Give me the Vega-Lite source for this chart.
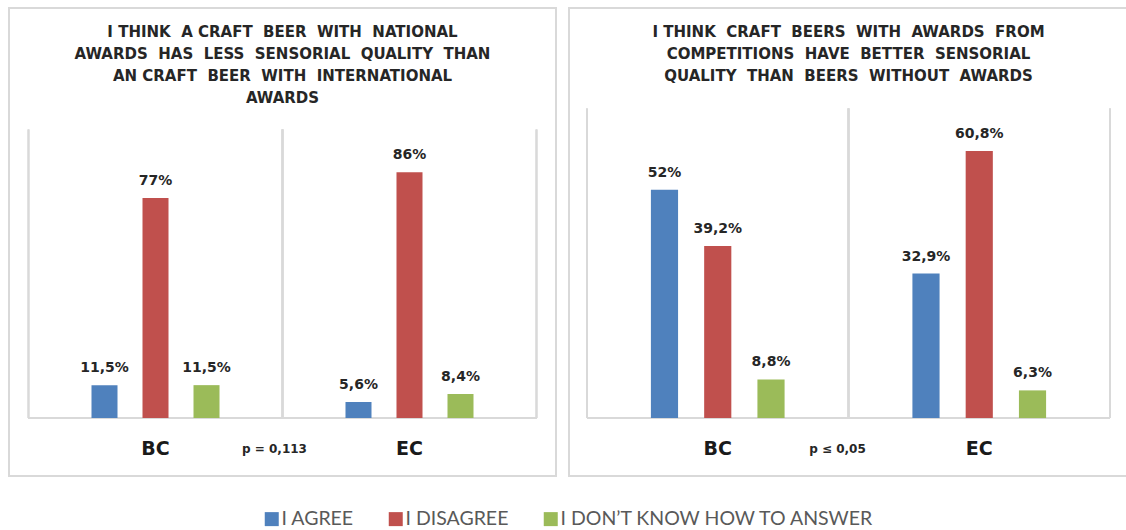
{
  "$schema": "https://vega.github.io/schema/vega-lite/v6.json",
  "padding": {"left": 8, "top": 7, "right": 0, "bottom": 0},
  "background": "white",
  "config": {
    "view": {"stroke": "#d9d9d9", "strokeWidth": 2},
    "font": "DejaVu Sans",
    "legend": {"layout": {"bottom": {"anchor": "middle"}}}
  },
  "data": {
    "values": [
      {"panel": "L", "group": "BC", "answer": "I AGREE", "value": 11.5, "label": "11,5%"},
      {"panel": "L", "group": "BC", "answer": "I DISAGREE", "value": 77, "label": "77%"},
      {"panel": "L", "group": "BC", "answer": "I DON’T KNOW HOW TO ANSWER", "value": 11.5, "label": "11,5%"},
      {"panel": "L", "group": "EC", "answer": "I AGREE", "value": 5.6, "label": "5,6%"},
      {"panel": "L", "group": "EC", "answer": "I DISAGREE", "value": 86, "label": "86%"},
      {"panel": "L", "group": "EC", "answer": "I DON’T KNOW HOW TO ANSWER", "value": 8.4, "label": "8,4%"},
      {"panel": "R", "group": "BC", "answer": "I AGREE", "value": 52, "label": "52%"},
      {"panel": "R", "group": "BC", "answer": "I DISAGREE", "value": 39.2, "label": "39,2%"},
      {"panel": "R", "group": "BC", "answer": "I DON’T KNOW HOW TO ANSWER", "value": 8.8, "label": "8,8%"},
      {"panel": "R", "group": "EC", "answer": "I AGREE", "value": 32.9, "label": "32,9%"},
      {"panel": "R", "group": "EC", "answer": "I DISAGREE", "value": 60.8, "label": "60,8%"},
      {"panel": "R", "group": "EC", "answer": "I DON’T KNOW HOW TO ANSWER", "value": 6.3, "label": "6,3%"}
    ]
  },
  "spacing": 11,
  "resolve": {"scale": {"xOffset": "independent"}},
  "hconcat": [
    {
      "width": 547,
      "height": 468,
      "transform": [{"filter": "datum.panel === 'L'"}],
      "title": {
        "text": ["I THINK\u00a0 A CRAFT\u00a0 BEER\u00a0 WITH\u00a0 NATIONAL", "AWARDS\u00a0 HAS\u00a0 LESS\u00a0 SENSORIAL\u00a0 QUALITY\u00a0 THAN", "AN CRAFT\u00a0 BEER\u00a0 WITH\u00a0 INTERNATIONAL", "AWARDS"],
        "offset": -98, "anchor": "middle", "frame": "group",
        "font": "DejaVu Sans", "fontSize": 15, "fontWeight": "bold", "color": "#262626", "lineHeight": 22
      },
      "encoding": {
        "x": {
          "field": "group", "type": "nominal",
          "scale": {"paddingInner": 0, "paddingOuter": 0.0768},
          "axis": {
            "orient": "bottom", "offset": -58, "domain": false, "ticks": false, "grid": false, "labelAngle": 0,
            "labelPadding": 21, "labelFont": "DejaVu Sans", "labelFontSize": 19, "labelFontWeight": "bold", "labelColor": "#1a1a1a",
            "title": "p = 0,113", "titleFont": "DejaVu Sans", "titleFontSize": 12, "titleFontWeight": "bold", "titleColor": "#262626",
            "titleY": 30, "titleX": 265, "titleBaseline": "middle", "titleAlign": "center"
          }
        }
      },
      "layer": [
        {
          "mark": {"type": "rule", "color": "#d9d9d9", "strokeWidth": 1.75},
          "encoding": {
            "x": {"field": "group", "type": "nominal", "bandPosition": 0},
            "y": {"datum": 0, "type": "quantitative", "scale": {"domain": [-20.3, 143.5], "nice": false, "zero": false}, "axis": null},
            "y2": {"datum": 101}
          }
        },
        {
          "mark": {"type": "rule", "color": "#d9d9d9", "strokeWidth": 1.75},
          "encoding": {
            "x": {"field": "group", "type": "nominal", "bandPosition": 1},
            "y": {"datum": 0, "type": "quantitative"},
            "y2": {"datum": 101}
          }
        },
        {
          "mark": {"type": "rule", "color": "#d9d9d9", "strokeWidth": 1.75},
          "encoding": {
            "x": {"datum": "BC", "type": "nominal", "bandPosition": 0},
            "x2": {"datum": "EC", "bandPosition": 1},
            "y": {"datum": 0, "type": "quantitative"}
          }
        },
        {
          "mark": {"type": "bar"},
          "encoding": {
            "xOffset": {"field": "answer", "type": "nominal", "sort": null, "scale": {"domain": [" ", "I AGREE", "I DISAGREE", "I DON’T KNOW HOW TO ANSWER", "  "], "paddingInner": 0.49, "paddingOuter": 0.235}},
            "y": {"field": "value", "type": "quantitative"},
            "y2": {"datum": 0},
            "color": {
              "field": "answer", "type": "nominal", "sort": null,
              "scale": {"domain": ["I AGREE", "I DISAGREE", "I DON’T KNOW HOW TO ANSWER"], "range": ["#4f81bd", "#c0504d", "#9bbb59"]},
              "legend": {
                "orient": "bottom", "title": null, "direction": "horizontal", "symbolType": "square", "symbolSize": 196,
                "symbolStrokeWidth": 0, "labelFont": "Lato", "labelFontSize": 19.5, "labelColor": "#595959",
                "columnPadding": 32, "labelOffset": 0, "offset": 32, "labelLimit": 400
              }
            }
          }
        },
        {
          "mark": {"type": "text", "font": "DejaVu Sans", "fontSize": 14, "fontWeight": "bold", "color": "#262626", "baseline": "alphabetic", "dy": -13},
          "encoding": {
            "xOffset": {"field": "answer", "type": "nominal", "sort": null},
            "y": {"field": "value", "type": "quantitative"},
            "text": {"field": "label"}
          }
        }
      ]
    },
    {
      "width": 559,
      "height": 468,
      "transform": [{"filter": "datum.panel === 'R'"}],
      "title": {
        "text": ["I THINK\u00a0 CRAFT\u00a0 BEERS\u00a0 WITH\u00a0 AWARDS\u00a0 FROM", "COMPETITIONS\u00a0 HAVE\u00a0 BETTER\u00a0 SENSORIAL", "QUALITY\u00a0 THAN\u00a0 BEERS\u00a0 WITHOUT\u00a0 AWARDS"],
        "offset": -76, "anchor": "middle", "frame": "group",
        "font": "DejaVu Sans", "fontSize": 15, "fontWeight": "bold", "color": "#262626", "lineHeight": 22
      },
      "encoding": {
        "x": {
          "field": "group", "type": "nominal",
          "scale": {"paddingInner": 0, "paddingOuter": 0.0688},
          "axis": {
            "orient": "bottom", "offset": -58, "domain": false, "ticks": false, "grid": false, "labelAngle": 0,
            "labelPadding": 21, "labelFont": "DejaVu Sans", "labelFontSize": 19, "labelFontWeight": "bold", "labelColor": "#1a1a1a",
            "title": "p ≤ 0,05", "titleFont": "DejaVu Sans", "titleFontSize": 12, "titleFontWeight": "bold", "titleColor": "#262626",
            "titleY": 30, "titleX": 268, "titleBaseline": "middle", "titleAlign": "center"
          }
        }
      },
      "layer": [
        {
          "mark": {"type": "rule", "color": "#d9d9d9", "strokeWidth": 1.75},
          "encoding": {
            "x": {"field": "group", "type": "nominal", "bandPosition": 0},
            "y": {"datum": 0, "type": "quantitative", "scale": {"domain": [-13.2, 93.4], "nice": false, "zero": false}, "axis": null},
            "y2": {"datum": 70.5}
          }
        },
        {
          "mark": {"type": "rule", "color": "#d9d9d9", "strokeWidth": 1.75},
          "encoding": {
            "x": {"field": "group", "type": "nominal", "bandPosition": 1},
            "y": {"datum": 0, "type": "quantitative"},
            "y2": {"datum": 70.5}
          }
        },
        {
          "mark": {"type": "rule", "color": "#d9d9d9", "strokeWidth": 1.75},
          "encoding": {
            "x": {"datum": "BC", "type": "nominal", "bandPosition": 0},
            "x2": {"datum": "EC", "bandPosition": 1},
            "y": {"datum": 0, "type": "quantitative"}
          }
        },
        {
          "mark": {"type": "bar"},
          "encoding": {
            "xOffset": {"field": "answer", "type": "nominal", "sort": null, "scale": {"domain": [" ", "I AGREE", "I DISAGREE", "I DON’T KNOW HOW TO ANSWER", "  "], "paddingInner": 0.49, "paddingOuter": 0.2}},
            "y": {"field": "value", "type": "quantitative"},
            "y2": {"datum": 0},
            "color": {"field": "answer", "type": "nominal", "sort": null}
          }
        },
        {
          "mark": {"type": "text", "font": "DejaVu Sans", "fontSize": 14, "fontWeight": "bold", "color": "#262626", "baseline": "alphabetic", "dy": -13},
          "encoding": {
            "xOffset": {"field": "answer", "type": "nominal", "sort": null},
            "y": {"field": "value", "type": "quantitative"},
            "text": {"field": "label"}
          }
        }
      ]
    }
  ]
}
